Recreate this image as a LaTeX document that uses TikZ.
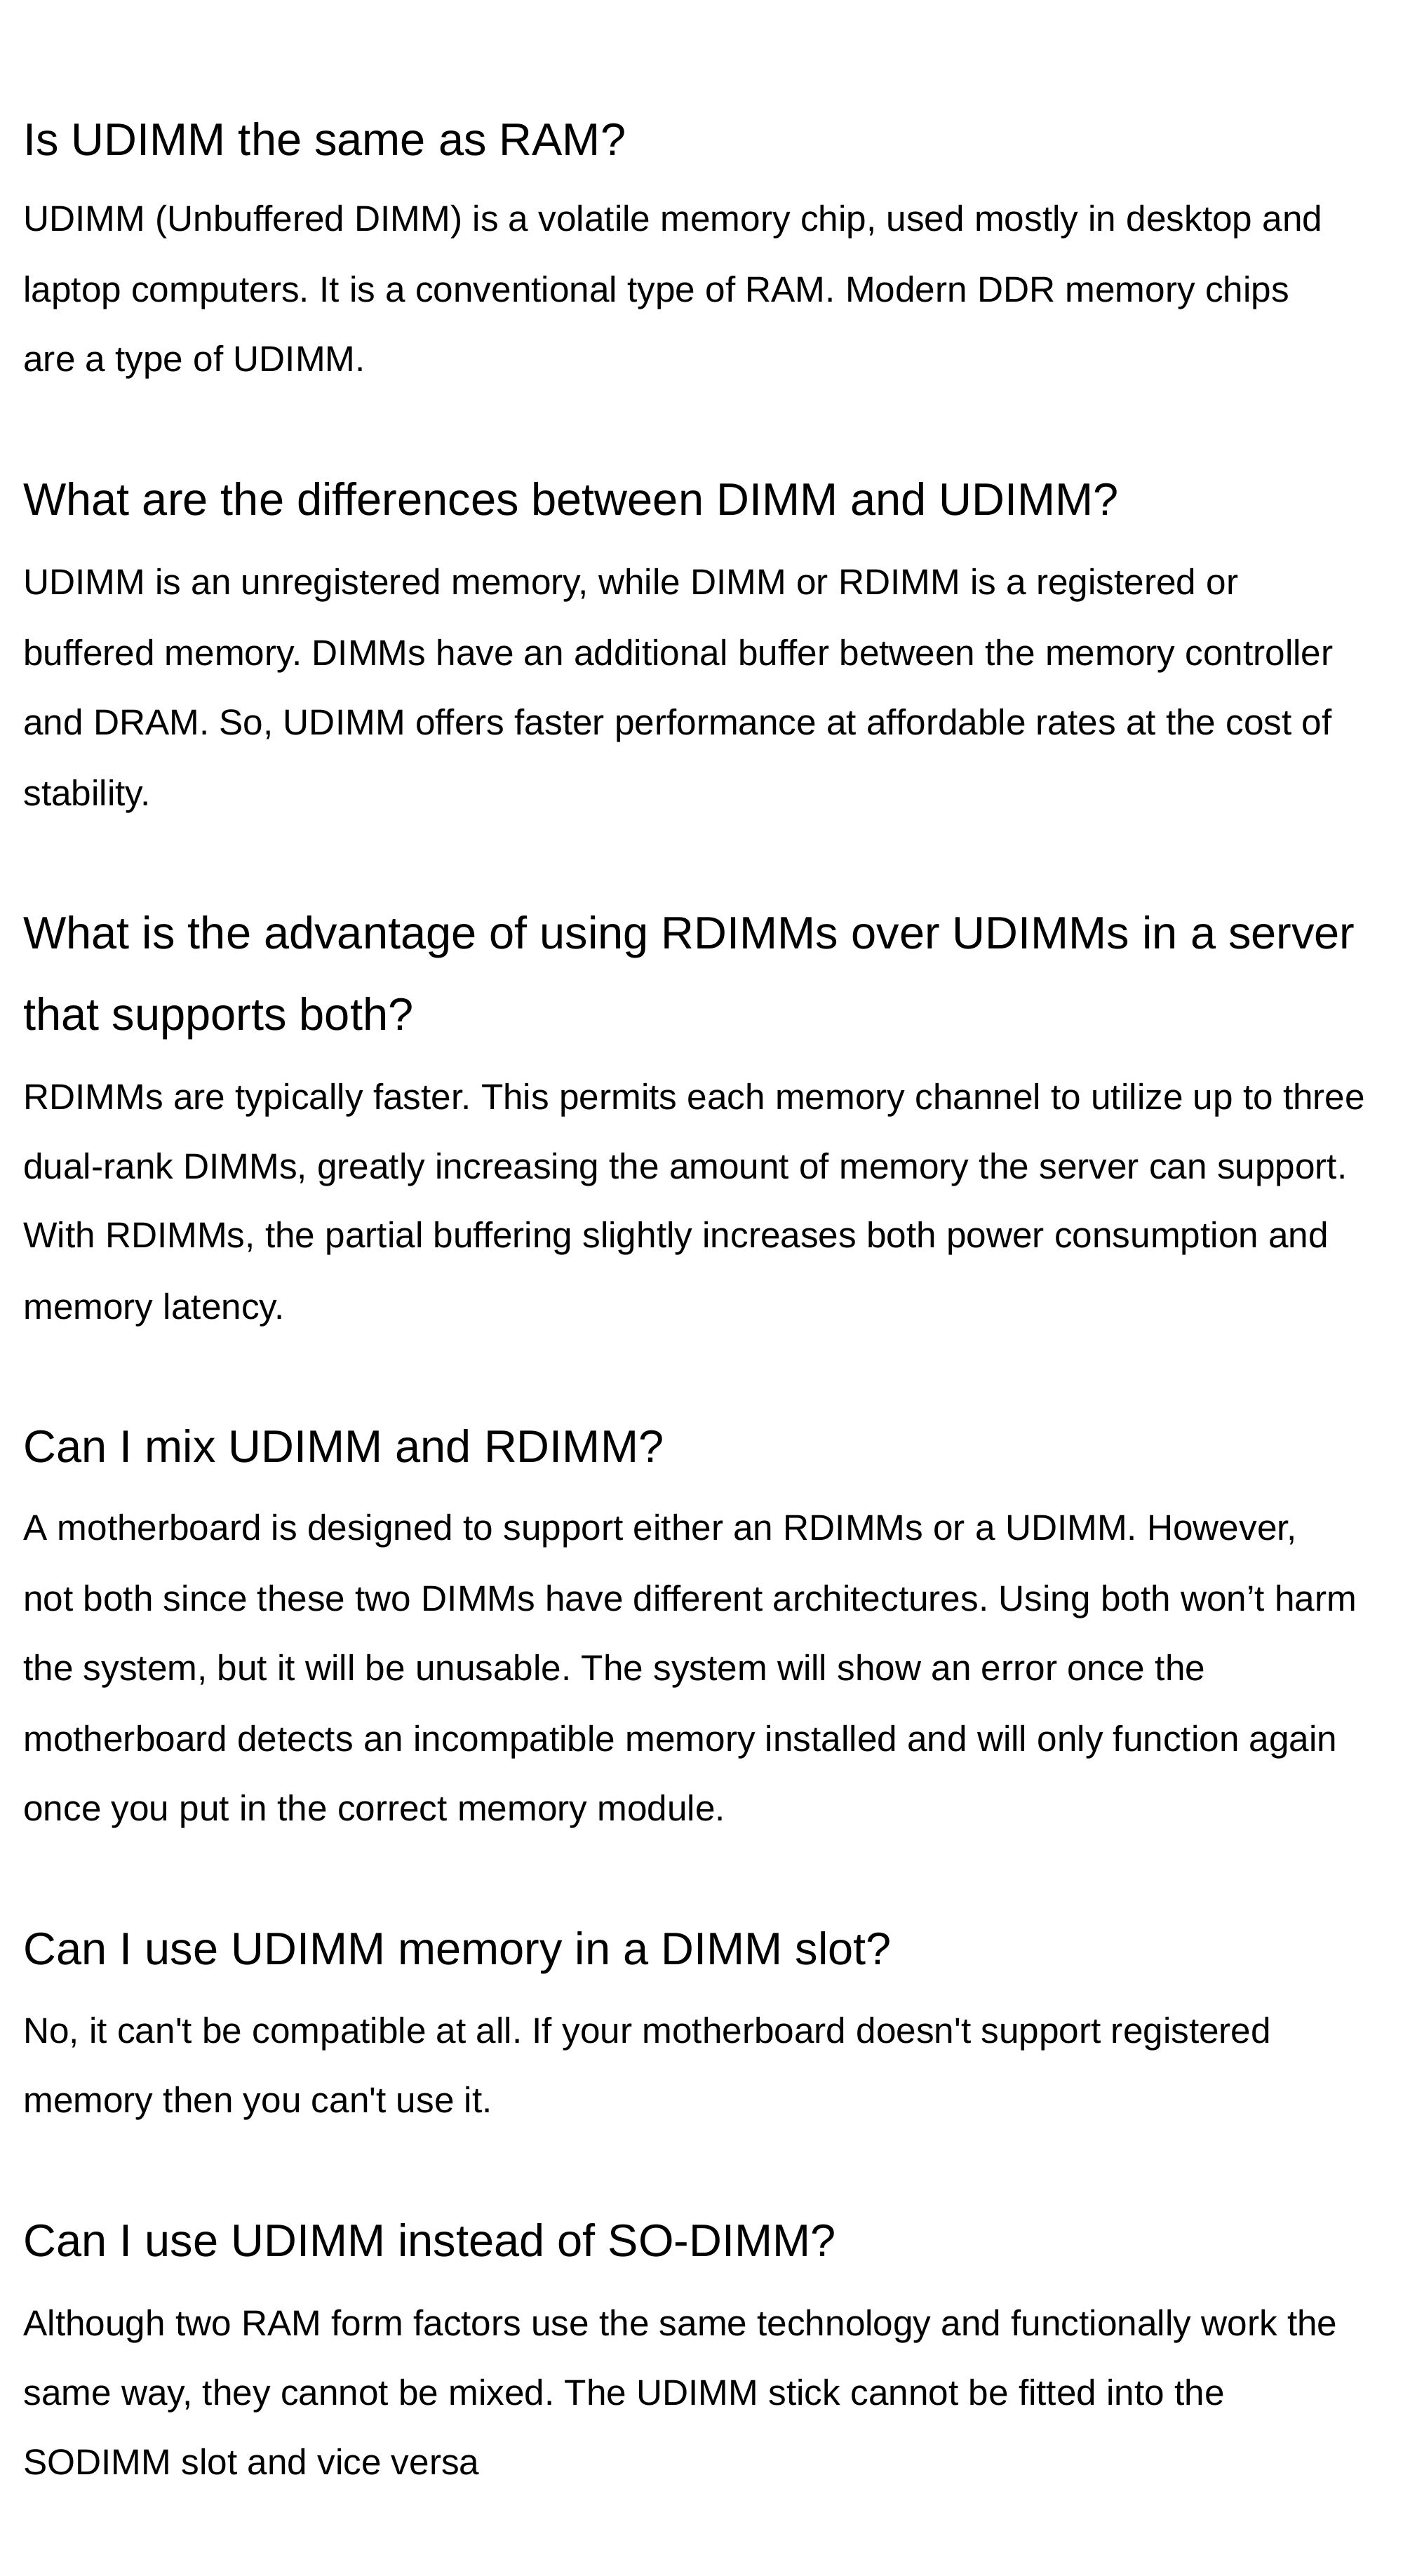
\documentclass[tikz,border=0pt]{standalone}
\usepackage{fontspec}
\setmainfont{Liberation Sans}
\frenchspacing
\begin{document}
\begin{tikzpicture}[x=1pt,y=1pt,
  hd/.style={anchor=base west,inner sep=0pt,font=\fontsize{27.6}{30}\selectfont},
  bd/.style={anchor=base west,inner sep=0pt,font=\fontsize{21.8}{24}\selectfont}]
\fill[white] (0,0) rectangle (850,-1560.6);
\useasboundingbox (0,0) rectangle (850,-1560.6);
\def\L#1#2#3{\node[#1] at (14,-#2-6) {#3};}
\def\q{\textquotesingle}
\L{hd}{88}{Is UDIMM the same as RAM?}
\L{bd}{134}{UDIMM (Unbuffered DIMM) is a volatile memory chip, used mostly in desktop and}
\L{bd}{177}{laptop computers. It is a conventional type of RAM. Modern DDR memory chips}
\L{bd}{219}{are a type of UDIMM.}
\L{hd}{306}{What are the differences between DIMM and UDIMM?}
\L{bd}{354}{UDIMM is an unregistered memory, while DIMM or RDIMM is a registered or}
\L{bd}{397}{buffered memory. DIMMs have an additional buffer between the memory controller}
\L{bd}{439}{and DRAM. So, UDIMM offers faster performance at affordable rates at the cost of}
\L{bd}{482}{stability.}
\L{hd}{569}{What is the advantage of using RDIMMs over UDIMMs in a server}
\L{hd}{618}{that supports both?}
\L{bd}{666}{RDIMMs are typically faster. This permits each memory channel to utilize up to three}
\L{bd}{708}{dual-rank DIMMs, greatly increasing the amount of memory the server can support.}
\L{bd}{750}{With RDIMMs, the partial buffering slightly increases both power consumption and}
\L{bd}{793}{memory latency.}
\L{hd}{880}{Can I mix UDIMM and RDIMM?}
\L{bd}{927}{A motherboard is designed to support either an RDIMMs or a UDIMM. However,}
\L{bd}{970}{not both since these two DIMMs have different architectures. Using both won’t harm}
\L{bd}{1012}{the system, but it will be unusable. The system will show an error once the}
\L{bd}{1055}{motherboard detects an incompatible memory installed and will only function again}
\L{bd}{1097}{once you put in the correct memory module.}
\L{hd}{1184}{Can I use UDIMM memory in a DIMM slot?}
\L{bd}{1232}{No, it can\q t be compatible at all. If your motherboard doesn\q t support registered}
\L{bd}{1274}{memory then you can\q t use it.}
\L{hd}{1361}{Can I use UDIMM instead of SO-DIMM?}
\L{bd}{1409}{Although two RAM form factors use the same technology and functionally work the}
\L{bd}{1451}{same way, they cannot be mixed. The UDIMM stick cannot be fitted into the}
\L{bd}{1493}{SODIMM slot and vice versa}
\end{tikzpicture}
\end{document}
